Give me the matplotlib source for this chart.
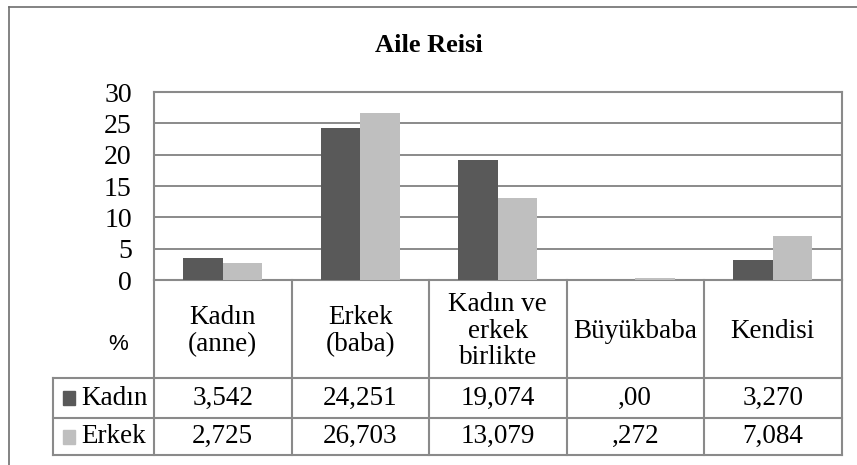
import matplotlib
matplotlib.use("Agg")
import matplotlib.pyplot as plt
from matplotlib.lines import Line2D
from matplotlib.patches import Rectangle
from matplotlib.transforms import blended_transform_factory

# Données du graphique
categories = ["Kadın\n(anne)", "Erkek\n(baba)", "Kadın ve\nerkek\nbirlikte", "Büyükbaba", "Kendisi"]
kadin = [3.542, 24.251, 19.074, 0.0, 3.270]
erkek = [2.725, 26.703, 13.079, 0.272, 7.084]
kadin_labels = ["3,542", "24,251", "19,074", ",00", "3,270"]
erkek_labels = ["2,725", "26,703", "13,079", ",272", "7,084"]
series_names = ["Kadın", "Erkek"]
yticks = [0, 5, 10, 15, 20, 25, 30]

dark = "#595959"
light = "#bfbfbf"
line_col = "#8a8a8a"
serif = "Liberation Serif"

W, H = 857, 465
fig = plt.figure(figsize=(W / 100, H / 100), dpi=100)


def fx(px):
    return px / W


def fy(py):
    return 1 - py / H


ax = fig.add_axes([fx(154), fy(280), fx(841.5) - fx(154), fy(92) - fy(280)])

n = len(categories)
bw = 1 / 3.5
xs = list(range(n))
ax.bar([x - bw / 2 for x in xs], kadin, width=bw, color=dark, zorder=3)
ax.bar([x + bw / 2 for x in xs], erkek, width=bw, color=light, zorder=3)

ax.set_xlim(-0.5, n - 0.5)
ax.set_ylim(0, 30)
ax.set_yticks(yticks)
ax.set_yticklabels([str(t) for t in yticks], family=serif, fontsize=20)
ax.tick_params(axis="y", length=0, pad=16)
ax.set_xticks([])
ax.yaxis.grid(True, color=line_col, lw=1.4, zorder=0)
for s in ax.spines.values():
    s.set_color(line_col)
    s.set_linewidth(1.5)

fig.text(0.5, fy(45), "Aile Reisi", ha="center", va="center", family=serif,
         fontsize=19, fontweight="bold")

# Tableau de données sous le graphique
tr = blended_transform_factory(ax.transData, fig.transFigure)
y_axis, y_head, y_r1, y_r2 = 280, 378, 418, 455

for i in range(n + 1):
    fig.add_artist(Line2D([i - 0.5, i - 0.5], [fy(y_axis), fy(y_r2)], transform=tr,
                          color=line_col, lw=1.5))
for yy in (y_head, y_r1, y_r2):
    fig.add_artist(Line2D([fx(53), fx(841.5)], [fy(yy), fy(yy)], color=line_col, lw=1.5))
fig.add_artist(Line2D([fx(53), fx(53)], [fy(y_head), fy(y_r2)], color=line_col, lw=1.5))

fs = 19.5
for i, cat in enumerate(categories):
    fig.text(i, fy(331), cat, transform=tr, ha="center", va="center",
             family=serif, fontsize=fs, linespacing=1.1)
    fig.text(i, fy((y_head + y_r1) / 2), kadin_labels[i], transform=tr, ha="center",
             va="center", family=serif, fontsize=fs)
    fig.text(i, fy((y_r1 + y_r2) / 2), erkek_labels[i], transform=tr, ha="center",
             va="center", family=serif, fontsize=fs)

fig.text(fx(118), fy(344), "%", ha="center", va="center", family="Liberation Sans", fontsize=16)

for name, col, (y0, y1) in zip(series_names, [dark, light], [(y_head, y_r1), (y_r1, y_r2)]):
    yc = (y0 + y1) / 2
    fig.add_artist(Rectangle((fx(63), fy(yc + 7)), fx(12), fy(0) - fy(14),
                             color=col, transform=fig.transFigure))
    fig.text(fx(81), fy(yc), name, ha="left", va="center", family=serif, fontsize=fs)

# Cadre extérieur
fig.add_artist(Line2D([fx(8.5), fx(8.5)], [fy(7.5), 0], color="#6e6e6e", lw=1.2))
fig.add_artist(Line2D([fx(8.5), 1], [fy(7.5), fy(7.5)], color="#6e6e6e", lw=1.2))

fig.savefig("out.png", dpi=100)
